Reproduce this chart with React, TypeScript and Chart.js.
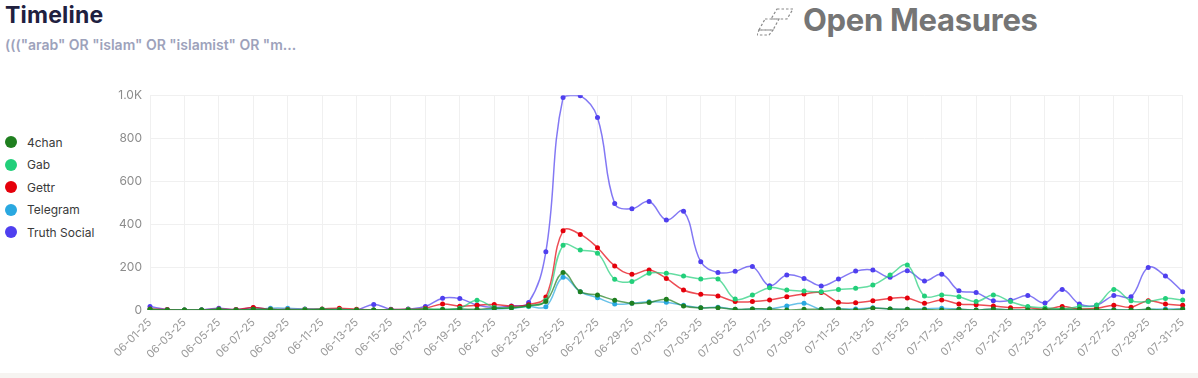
import React, { useEffect, useRef } from "react";
import { Chart, registerables } from "chart.js";

Chart.register(...registerables);

const labels: string[] = [
  "06-01-25","06-02-25","06-03-25","06-04-25","06-05-25","06-06-25","06-07-25","06-08-25","06-09-25","06-10-25",
  "06-11-25","06-12-25","06-13-25","06-14-25","06-15-25","06-16-25","06-17-25","06-18-25","06-19-25","06-20-25",
  "06-21-25","06-22-25","06-23-25","06-24-25","06-25-25","06-26-25","06-27-25","06-28-25","06-29-25","06-30-25",
  "07-01-25","07-02-25","07-03-25","07-04-25","07-05-25","07-06-25","07-07-25","07-08-25","07-09-25","07-10-25",
  "07-11-25","07-12-25","07-13-25","07-14-25","07-15-25","07-16-25","07-17-25","07-18-25","07-19-25","07-20-25",
  "07-21-25","07-22-25","07-23-25","07-24-25","07-25-25","07-26-25","07-27-25","07-28-25","07-29-25","07-30-25",
  "07-31-25",
];

const fourChan = [
  3,0,0,0,2,0,3,2,0,0,
  2,0,0,0,0,0,3,2,5,3,
  8,10,20,40,174,85,70,45,31,35,
  50,19,10,10,3,5,5,0,3,3,
  5,0,8,5,3,2,0,3,0,5,
  0,0,2,3,3,2,0,0,3,0,
  5,
];
const gab = [
  2,0,0,0,3,0,2,2,0,2,
  3,2,0,0,0,2,5,3,8,45,
  12,10,18,45,301,279,264,143,133,171,
  171,158,144,144,51,70,104,93,88,85,
  96,101,116,163,209,65,70,62,39,70,
  39,16,11,5,16,23,96,43,40,54,
  47,
];
const gettr = [
  5,2,0,0,5,2,12,3,2,3,
  5,8,3,0,2,3,8,28,18,22,
  26,18,25,60,369,352,290,205,166,186,
  147,93,73,65,39,39,47,62,74,81,
  36,34,43,54,56,31,47,28,25,19,
  11,11,3,16,5,8,22,13,43,28,
  22,
];
const telegram = [
  0,0,0,0,2,0,0,8,8,5,
  3,3,2,0,0,0,0,2,2,0,
  5,8,16,15,152,85,57,28,31,38,
  36,22,10,13,3,5,5,19,31,3,
  5,5,10,5,3,5,8,3,0,5,
  0,0,0,2,0,0,2,0,3,5,
  5,
];
const truthSocial = [
  16,2,0,1,8,2,10,3,2,4,
  3,3,0,26,3,5,16,55,53,23,
  12,19,35,271,989,998,896,496,471,505,
  419,460,225,175,180,202,113,163,147,112,
  144,181,186,152,183,135,166,90,81,43,
  45,67,33,96,28,22,67,62,198,158,
  85,
];

const seriesNames = ["4chan", "Gab", "Gettr", "Telegram", "Truth Social"];
const seriesColors = ["#1f7f1f", "#22cf7a", "#e5000b", "#2aa8e0", "#4f3fef"];
const seriesData = [fourChan, gab, gettr, telegram, truthSocial];
const yTicks = [0, 200, 400, 600, 800, 1000];

const FONT = "Inter, 'Noto Sans', sans-serif";

function withAlpha(hex: string, a: number) {
  const r = parseInt(hex.slice(1, 3), 16);
  const g = parseInt(hex.slice(3, 5), 16);
  const b = parseInt(hex.slice(5, 7), 16);
  return `rgba(${r},${g},${b},${a})`;
}

function TimelineChart() {
  const ref = useRef<HTMLCanvasElement | null>(null);
  useEffect(() => {
    if (!ref.current) return;
    const chart = new Chart(ref.current, {
      type: "line",
      data: {
        labels,
        datasets: seriesNames.map((name, i) => ({
          label: name,
          data: seriesData[i],
          borderColor: withAlpha(seriesColors[i], 0.7),
          backgroundColor: seriesColors[i],
          pointBackgroundColor: seriesColors[i],
          pointBorderColor: seriesColors[i],
          pointRadius: 2.5,
          pointBorderWidth: 0,
          borderWidth: 1.5,
          tension: 0.4,
          fill: false,
        })),
      },
      options: {
        animation: false,
        responsive: false,
        maintainAspectRatio: false,
        layout: { padding: { top: 15, right: 11, bottom: 0, left: 0 } },
        plugins: {
          legend: { display: false },
          tooltip: { enabled: false },
        },
        scales: {
          x: {
            grid: { color: "#f0f0f0", drawTicks: false },
            border: { display: false },
            afterFit: (scale: any) => {
              scale.height = 68;
            },
            ticks: {
              autoSkip: false,
              minRotation: 45,
              maxRotation: 45,
              padding: 6,
              color: "#999999",
              font: { family: FONT, size: 11 },
              callback: (_v: any, idx: number) => (idx % 2 === 0 ? labels[idx] : null),
            },
          },
          y: {
            min: 0,
            max: 1000,
            afterFit: (scale: any) => {
              scale.width = 50;
            },
            afterBuildTicks: (scale: any) => {
              scale.ticks = yTicks.map((v) => ({ value: v }));
            },
            grid: { color: "#f0f0f0", drawTicks: false },
            border: { display: false },
            ticks: {
              padding: 8,
              color: "#8c8c8c",
              font: { family: FONT, size: 12 },
              callback: (v: any) => (v >= 1000 ? (v / 1000).toFixed(1) + "K" : String(v)),
            },
          },
        },
      },
    });
    return () => chart.destroy();
  }, []);
  return (
    <canvas
      ref={ref}
      width={1098}
      height={298}
      style={{ position: "absolute", left: 100, top: 80, width: 1098, height: 298 }}
    />
  );
}

export default function App() {
  return (
    <div
      style={{
        position: "fixed",
        left: 0,
        top: 0,
        width: 1198,
        height: 378,
        background: "#ffffff",
        fontFamily: FONT,
        overflow: "hidden",
      }}
    >
      <div
        style={{
          position: "absolute",
          left: 5,
          top: 1,
          fontSize: 23,
          fontWeight: 700,
          color: "#20203f",
          letterSpacing: 0.2,
        }}
      >
        Timeline
      </div>
      <div
        style={{
          position: "absolute",
          left: 5,
          top: 36,
          fontSize: 14,
          fontWeight: 600,
          color: "#9da2bb",
        }}
      >
        ((("arab" OR "islam" OR "islamist" OR "m...
      </div>
      <svg
        width={40}
        height={30}
        viewBox="0 0 40 30"
        style={{ position: "absolute", left: 757, top: 6 }}
      >
        <g fill="none" stroke="#8a8a8a" strokeWidth={1.2} strokeDasharray="2.5 2">
          <polygon points="20,3 36,3 30,13 14,13" />
          <polygon points="8,13 22,13 16,24 2,24" />
          <polygon points="2,24 16,24 12,29 0,29" />
        </g>
      </svg>
      <div
        style={{
          position: "absolute",
          left: 803,
          top: 1,
          fontSize: 31,
          fontWeight: 700,
          color: "#757575",
          letterSpacing: -0.3,
        }}
      >
        Open Measures
      </div>
      {seriesNames.map((name, i) => (
        <div
          key={name}
          style={{
            position: "absolute",
            left: 5,
            top: 135 + i * 22.5,
            height: 14,
            display: "flex",
            alignItems: "center",
            fontSize: 12,
            color: "#3a3a3a",
          }}
        >
          <span
            style={{
              width: 12,
              height: 12,
              borderRadius: 6,
              background: seriesColors[i],
              display: "inline-block",
              marginRight: 10,
            }}
          />
          {name}
        </div>
      ))}
      <TimelineChart />
      <div
        style={{
          position: "absolute",
          left: 0,
          top: 373,
          width: 1198,
          height: 5,
          background: "#f6f4f1",
        }}
      />
    </div>
  );
}
